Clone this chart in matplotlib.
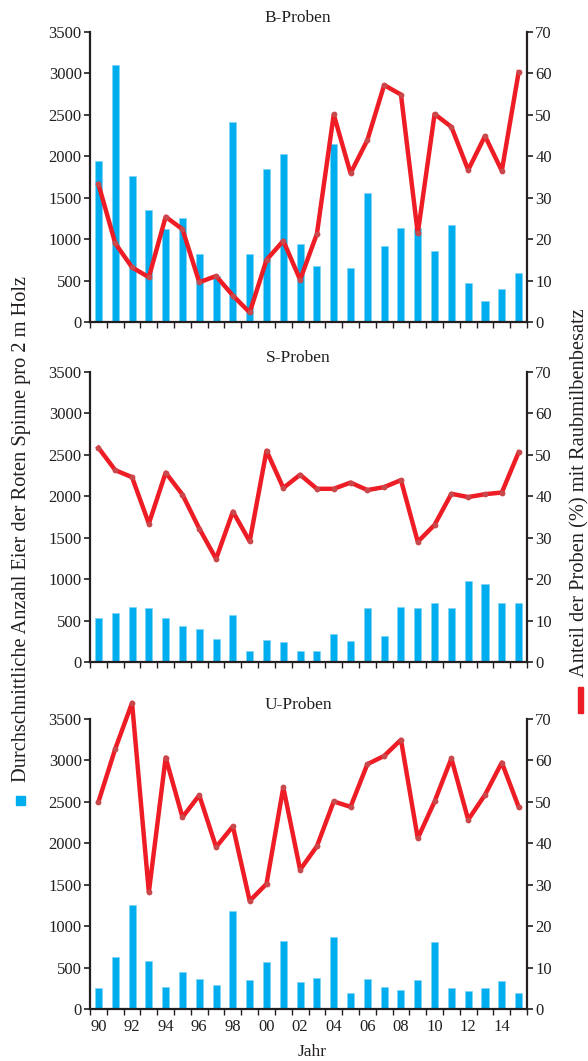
import matplotlib.pyplot as plt
from matplotlib.patches import Rectangle
import numpy as np

years = np.arange(1990, 2016)

# Eier der Roten Spinne (Balken, linke Achse)
b_eier = [1940, 3100, 1760, 1350, 1120, 1250, 820, 550, 2410, 820, 1850, 2030, 938,
          676, 2147, 648, 1555, 912, 1133, 1133, 856, 1175, 470, 250, 398, 588]
s_eier = [535, 596, 669, 657, 535, 432, 400, 282, 567, 131, 265, 241, 131,
          131, 343, 253, 657, 310, 669, 657, 714, 657, 983, 938, 714, 714]
u_eier = [248, 628, 1260, 584, 264, 452, 368, 292, 1184, 352, 568, 820, 320,
          380, 864, 188, 368, 264, 232, 352, 804, 248, 220, 248, 336, 188]

# Anteil der Proben (%) mit Raubmilbenbesatz (Linie, rechte Achse)
b_anteil = [33.3, 19.0, 13.2, 10.8, 25.4, 22.4, 9.6, 11.1, 6.4, 2.3, 15.0, 19.6, 10.2,
            21.3, 50.1, 35.9, 43.9, 57.2, 54.9, 21.4, 50.2, 47.1, 36.7, 44.9, 36.5, 60.3]
s_anteil = [51.7, 46.3, 44.6, 33.4, 45.7, 40.4, 32.2, 24.9, 36.3, 29.1, 51.0, 42.0, 45.2,
            41.8, 41.8, 43.3, 41.5, 42.2, 43.9, 29.0, 33.1, 40.6, 39.8, 40.5, 40.9, 50.6]
u_anteil = [50.0, 62.8, 73.9, 28.2, 60.7, 46.3, 51.6, 39.1, 44.1, 26.1, 30.2, 53.5, 33.6,
            39.3, 50.1, 48.8, 59.1, 61.1, 65.0, 41.2, 50.1, 60.5, 45.7, 51.7, 59.5, 48.8]

titles = ["B-Proben", "S-Proben", "U-Proben"]

blue = "#00AEEF"
red = "#EE1C25"
dark = "#231F20"

plt.rcParams["font.family"] = ["Liberation Serif", "DejaVu Serif"]

fig = plt.figure(figsize=(5.88, 10.61), dpi=100)

bottoms = [0.6965, 0.3761, 0.0490]
data = [(b_eier, b_anteil), (s_eier, s_anteil), (u_eier, u_anteil)]

for i, (title, (eier, anteil), bot) in enumerate(zip(titles, data, bottoms)):
    ax = fig.add_axes([0.1531, bot, 0.7432, 0.2733])
    ax.bar(years, eier, width=0.42, color=blue, edgecolor="#7FD3F5", linewidth=0.5, zorder=2)
    ax.set_xlim(1989.5, 2015.5)
    ax.set_ylim(0, 3500)
    ax.set_yticks(np.arange(0, 3501, 500))
    ax.spines["top"].set_visible(False)
    ax.spines["right"].set_visible(False)
    for s in ["left", "bottom"]:
        ax.spines[s].set_linewidth(1.6)
        ax.spines[s].set_color(dark)
    ax.tick_params(axis="y", direction="out", length=4, width=1.2, color=dark,
                   labelsize=12, labelcolor=dark, pad=2)

    # Jahresmarken zwischen den Balken, Beschriftung unter den Balken
    ax.set_xticks(np.arange(1990, 2015, 2))
    ax.set_xticks(np.arange(1989.5, 2016, 1), minor=True)
    ax.tick_params(axis="x", which="major", length=0, labelsize=12, labelcolor=dark, pad=7)
    ax.tick_params(axis="x", which="minor", direction="out", length=4, width=1.0, color=dark)
    if i == 2:
        ax.set_xticklabels([f"{y % 100:02d}" for y in range(1990, 2015, 2)])
    else:
        ax.set_xticklabels([])

    ax2 = ax.twinx()
    ax2.plot(years, anteil, color=red, lw=3.2, marker="o", ms=4.2,
             mfc="#C9484C", mec="none", clip_on=False, zorder=3)
    ax2.set_ylim(0, 70)
    ax2.set_yticks(np.arange(0, 71, 10))
    for s in ["top", "left", "bottom"]:
        ax2.spines[s].set_visible(False)
    ax2.spines["right"].set_linewidth(1.6)
    ax2.spines["right"].set_color(dark)
    ax2.tick_params(axis="y", direction="out", length=4, width=1.2, color=dark,
                    labelsize=12, labelcolor=dark, pad=2)

    ax.text(0.476, 1.048, title, transform=ax.transAxes, ha="center", va="center",
            fontsize=12.5, color=dark)

fig.text(0.531, 0.0085, "Jahr", ha="center", va="center", fontsize=12.5, color=dark)

fig.text(0.037, 0.263, "Durchschnittliche Anzahl Eier der Roten Spinne pro 2 m Holz",
         rotation=90, ha="center", va="bottom", fontsize=14.7, color=dark)
fig.add_artist(Rectangle((0.028, 0.241), 0.0145, 0.0085, transform=fig.transFigure,
                         color=blue))

fig.text(0.987, 0.362, "Anteil der Proben (%) mit Raubmilbenbesatz",
         rotation=90, ha="center", va="bottom", fontsize=14.7, color=dark)
fig.add_artist(Rectangle((0.983, 0.328), 0.0085, 0.0245, transform=fig.transFigure,
                         color=red))

fig.savefig("out.png", dpi=100)
